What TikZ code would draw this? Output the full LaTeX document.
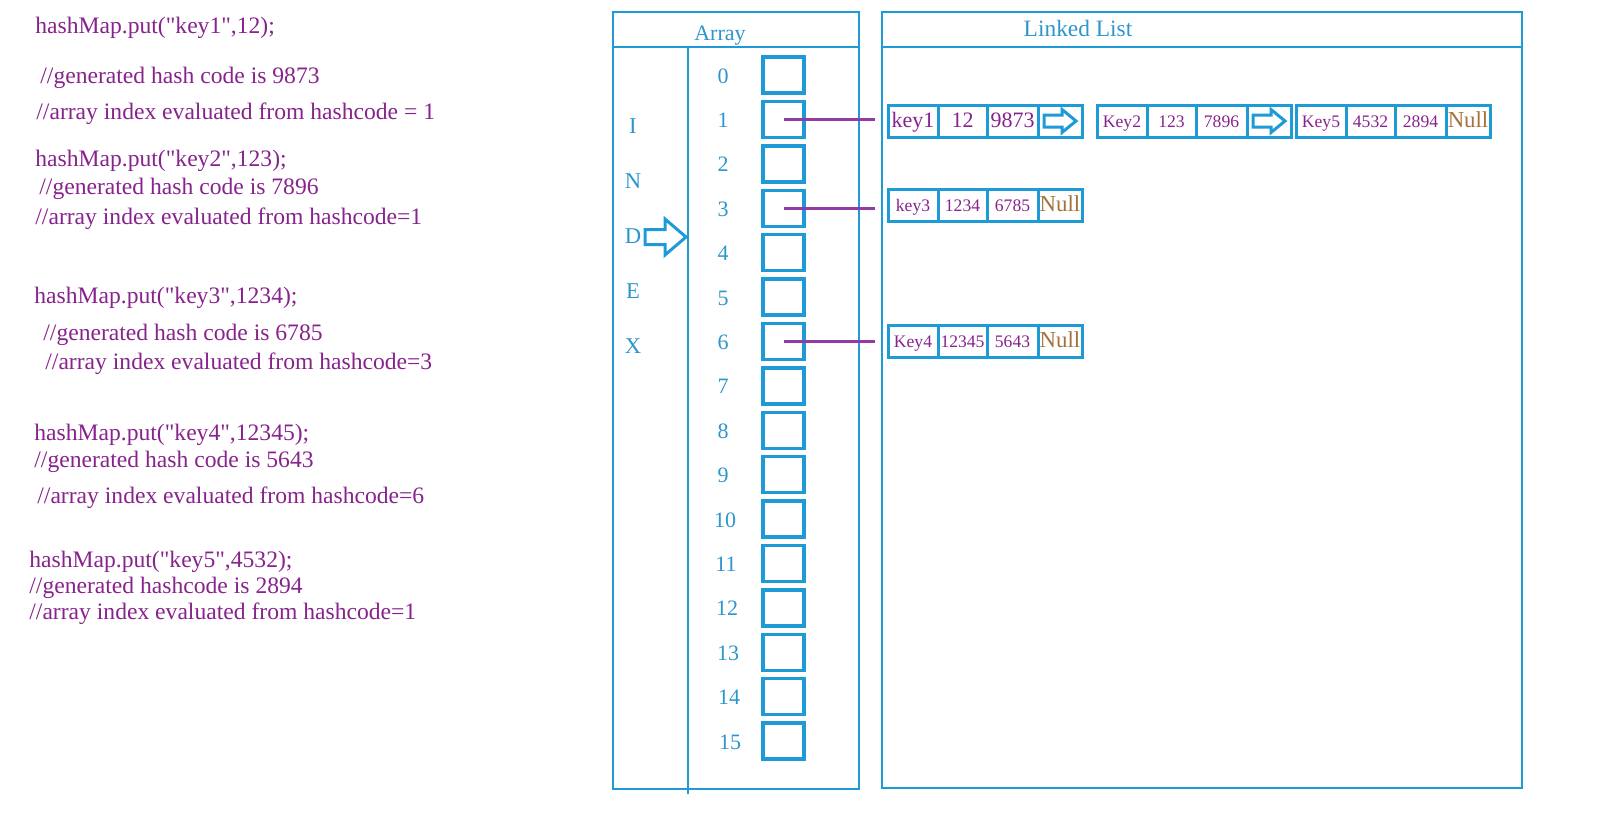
\documentclass[tikz,border=0pt]{standalone}
\usepackage{fontspec}
\setmainfont{Liberation Serif}[Ligatures=TeXOff]
\usetikzlibrary{positioning}
\definecolor{lineblue}{RGB}{30,155,215}
\definecolor{labelblue}{RGB}{45,150,205}
\definecolor{codepurple}{RGB}{135,35,140}
\definecolor{linkpurple}{RGB}{145,60,165}
\definecolor{nullbrown}{RGB}{165,112,60}

\begin{document}
\begin{tikzpicture}[x=0.5pt, y=-0.5pt,
    code/.style={anchor=base west, inner sep=0pt, text=codepurple, font=\fontsize{11.8}{14}\selectfont},
    blabel/.style={anchor=base, inner sep=0pt, text=labelblue, font=\fontsize{11}{13}\selectfont},
    frame/.style={draw=lineblue, line width=1.4pt},
    cell/.style={draw=lineblue, line width=1.7pt, minimum width=20.5pt, minimum height=18pt, inner sep=0pt},
    llcell/.style={draw=lineblue, line width=1.5pt, minimum height=16pt, inner sep=0pt, outer sep=0pt,
        text height=8pt, text depth=2pt, text=codepurple, font=\fontsize{8.8}{10}\selectfont},
    big/.style={font=\fontsize{11}{13}\selectfont},
    nullcell/.style={llcell, minimum width=22pt, text=nullbrown, font=\fontsize{11.4}{13}\selectfont},
    link/.style={draw=linkpurple, line width=1.5pt, shorten >=6.5pt},
    hollow/.style={draw=lineblue, line width=1.5pt, line join=miter}]
    \useasboundingbox (0,0) rectangle (1600,814);

    % --- code on the left ---
    \node[code] (put1) at (35,33) {hashMap.put("key1",12);};
    \node[code] (gen1) at (40,83) {//generated hash code is 9873};
    \node[code] (idx1) at (36,119) {//array index evaluated from hashcode = 1};
    \node[code] (put2) at (35,166) {hashMap.put("key2",123);};
    \node[code] (gen2) at (39,194) {//generated hash code is 7896};
    \node[code] (idx2) at (35,224) {//array index evaluated from hashcode=1};
    \node[code] (put3) at (34,303) {hashMap.put("key3",1234);};
    \node[code] (gen3) at (43,340) {//generated hash code is 6785};
    \node[code] (idx3) at (45,369) {//array index evaluated from hashcode=3};
    \node[code] (put4) at (34,440) {hashMap.put("key4",12345);};
    \node[code] (gen4) at (34,467) {//generated hash code is 5643};
    \node[code] (idx4) at (37,503) {//array index evaluated from hashcode=6};
    \node[code] (put5) at (29,567) {hashMap.put("key5",4532);};
    \node[code] (gen5) at (29,593) {//generated hashcode is 2894};
    \node[code] (idx5) at (29,619) {//array index evaluated from hashcode=1};

    % --- array ---
    \draw[frame] (613,12) rectangle (859,789);
    \draw[frame] (613,47) -- (859,47);
    \draw[lineblue, line width=1.1pt] (688,47) -- (688,794);
    \node[blabel] (arrtitle) at (720,40) {Array};
    \foreach \ch/\yy in {I/133, N/188, D/243, E/298, X/353}
        \node[blabel, font=\fontsize{11.3}{13}\selectfont] (idx\ch) at (633,\yy) {\ch};
    \draw[hollow] (645,229.5) -- (665,229.5) -- (665,219) -- (686,237) -- (665,255) -- (665,244.5) -- (645,244.5) -- cycle;
    \foreach \i in {0,...,15} {
        \pgfmathsetmacro\cy{75+44.4*\i}
        \pgfmathsetmacro\nx{\i<10 ? 723 : 715+\i}
        \node[cell] (c\i) at (783.5,\cy) {};
        \node[blabel] (n\i) at (\nx,\cy+8) {\i};
    }

    % --- linked list ---
    \draw[frame] (882,12) rectangle (1522,788);
    \draw[frame] (882,47) -- (1522,47);
    \node[blabel, font=\fontsize{11.7}{14}\selectfont] (lltitle) at (1078,36) {Linked List};

    % row of index 1
    \node[llcell, big, minimum width=25pt, anchor=west] (k1) at (888,121) {key1};
    \node[llcell, big, minimum width=24.5pt, right=0pt of k1] (v1) {12};
    \node[llcell, big, minimum width=25.5pt, right=0pt of v1] (h1) {9873};
    \node[llcell, minimum width=22pt, right=0pt of h1] (p1) {};
    \node[llcell, minimum width=25pt, right=7.5pt of p1] (k2) {Key2};
    \node[llcell, minimum width=24.5pt, right=0pt of k2] (v2) {123};
    \node[llcell, minimum width=25.5pt, right=0pt of v2] (h2) {7896};
    \node[llcell, minimum width=22pt, right=0pt of h2] (p2) {};
    \node[llcell, minimum width=25pt, right=2.5pt of p2] (k5) {Key5};
    \node[llcell, minimum width=24.5pt, right=0pt of k5] (v5) {4532};
    \node[llcell, minimum width=25.5pt, right=0pt of v5] (h5) {2894};
    \node[nullcell, right=0pt of h5] (z5) {Null};
    \draw[hollow, shift={(p1.center)}] (-16,-6) -- (2,-6) -- (2,-11.5) -- (16,0) -- (2,11.5) -- (2,6) -- (-16,6) -- cycle;
    \draw[hollow, shift={(p2.center)}] (-16,-6) -- (2,-6) -- (2,-11.5) -- (16,0) -- (2,11.5) -- (2,6) -- (-16,6) -- cycle;

    % row of index 3
    \node[llcell, minimum width=25pt, anchor=west] (k3) at (888,205.5) {key3};
    \node[llcell, minimum width=24.5pt, right=0pt of k3] (v3) {1234};
    \node[llcell, minimum width=25.5pt, right=0pt of v3] (h3) {6785};
    \node[nullcell, right=0pt of h3] (z3) {Null};

    % row of index 6
    \node[llcell, minimum width=25pt, anchor=west] (k4) at (888,341.5) {Key4};
    \node[llcell, minimum width=24.5pt, right=0pt of k4] (v4) {12345};
    \node[llcell, minimum width=25.5pt, right=0pt of v4] (h4) {5643};
    \node[nullcell, right=0pt of h4] (z4) {Null};

    % links from the buckets
    \draw[link] (c1.center) -- (c1.center -| k1.west);
    \draw[link] (c3.center) -- (c3.center -| k3.west);
    \draw[link] (c6.center) -- (c6.center -| k4.west);
\end{tikzpicture}
\end{document}
